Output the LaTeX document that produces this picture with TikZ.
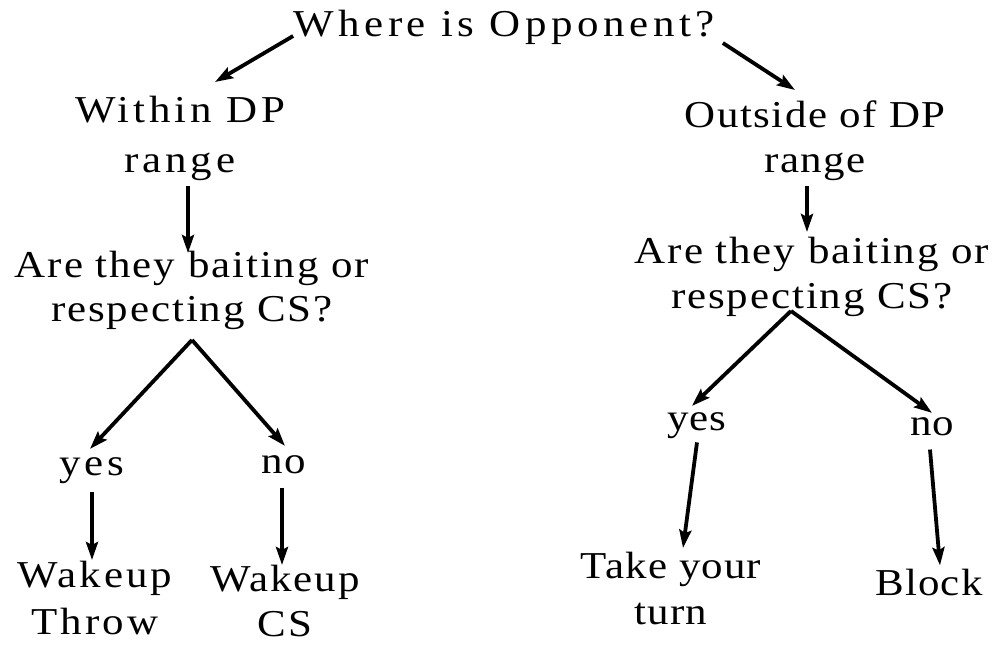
\documentclass[tikz,border=0pt]{standalone}
\usepackage{fontspec}
\setmainfont{Liberation Serif}
\usetikzlibrary{arrows.meta}

\tikzset{
  txt/.style 2 args={inner sep=0pt, align=center,
    font={\fontsize{38}{#1}\fontspec[FakeStretch=1.13,LetterSpace=#2]{Liberation Serif}}},
  arr/.style={line width=3.8pt, line cap=butt,
    -{Stealth[length=18pt,width=12pt,inset=3pt]}}
}

\begin{document}
\begin{tikzpicture}[x=1pt,y=-1pt]
\useasboundingbox (0,0) rectangle (997,645);

% question at the root
\node[txt={46}{12}, anchor=base] (title) at (504,36) {Where is Opponent?};

% two ranges
\node[txt={50}{10}, anchor=north] (within) at (180,96) {Within DP\\range};
\node[txt={45}{4}, anchor=north] (outside) at (815,101) {Outside of DP\\range};

% follow-up questions
\node[txt={44}{5}, anchor=north] (qL) at (192,251) {Are they baiting or\\respecting CS?};
\node[txt={45}{5}, anchor=north] (qR) at (812,237) {Are they baiting or\\respecting CS?};

% answers
\node[txt={46}{10}, anchor=base] (yesL) at (92,475) {yes};
\node[txt={46}{5}, anchor=base] (noL) at (284,473) {no};
\node[txt={46}{2}, anchor=base] (yesR) at (697,430) {yes};
\node[txt={46}{0}, anchor=base] (noR) at (932,435) {no};

% actions
\node[txt={47}{8}, anchor=north] (wt) at (95,561) {Wakeup\\Throw};
\node[txt={45}{5}, anchor=north] (wc) at (285,565) {Wakeup\\CS};
\node[txt={46}{3}, anchor=north] (take) at (671,552) {Take your\\turn};
\node[txt={46}{3}, anchor=base] (block) at (929,595) {Block};

% branching points
\coordinate (apexL) at ([shift={(0,10)}]qL.south);
\coordinate (apexR) at ([shift={(-21,-6)}]qR.south);

% connectors
\draw[arr] (title.base west) -- ([shift={(35,-14)}]within.north);
\draw[arr] ([shift={(8,7)}]title.base east) -- ([shift={(-20,-11)}]outside.north);
\draw[arr] ([shift={(8,5)}]within.south) -- ([shift={(-4,2)}]qL.north);
\draw[arr] ([shift={(-8,5)}]outside.south) -- ([shift={(-5,-5)}]qR.north);

\draw[arr] (apexL) -- ([shift={(-2,-8)}]yesL.north);
\draw[arr] (apexL) -- ([shift={(1,-9)}]noL.north);
\draw[arr] ([shift={(0,9)}]yesL.south) -- ([shift={(-3,-1)}]wt.north);
\draw[arr] ([shift={(-2,14)}]noL.south) -- ([shift={(-3,0)}]wc.north);

\draw[arr] (apexR) -- ([shift={(-5,-6)}]yesR.north);
\draw[arr] (apexR) -- ([shift={(0,-4)}]noR.north);
\draw[arr] ([shift={(0,4)}]yesR.south) -- ([shift={(12,-4)}]take.north);
\draw[arr] ([shift={(-2,14)}]noR.south) -- ([shift={(11,-3)}]block.north);
\end{tikzpicture}
\end{document}
